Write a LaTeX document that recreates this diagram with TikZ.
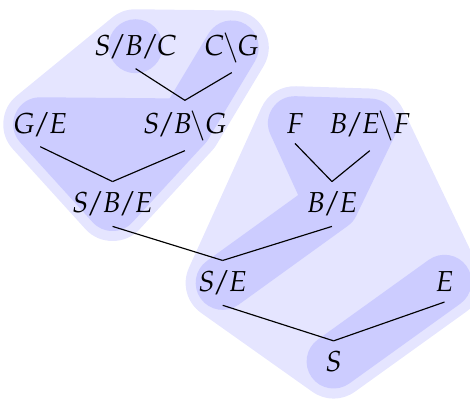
\documentclass[tikz,border=0pt]{standalone}
\usepackage{mathpazo}
\usetikzlibrary{backgrounds}
% tighter slashes for the categories
\newcommand{\fwd}{\mkern-1.5mu/\mkern-1.5mu}
\newcommand{\bwd}{\mkern-1mu\backslash\mkern-1mu}

\begin{document}
\begin{tikzpicture}\tikzstyle{every node}=[anchor=base]
  \tikzstyle{outer hull}=[draw=blue!10, fill=blue!10, line width=25.6pt, line join=round, line cap=round]
  \tikzstyle{inner hull}=[draw=blue!20, fill=blue!20, line width=18.7pt, line join=round, line cap=round]

  \useasboundingbox (0,0) rectangle (5.72,-4.88);

  % Categories, row by row
  \node (SBC) at (1.65,-0.67) {$S\fwd B\fwd C$};
  \node (CG)  at (2.82,-0.67) {$C\bwd G$};
  \node (GE)  at (0.49,-1.62) {$G\fwd E$};
  \node (SBG) at (2.25,-1.62) {$S\fwd B\bwd G$};
  \node (F)   at (3.59,-1.62) {$F$};
  \node (BEF) at (4.50,-1.62) {$B\fwd E\bwd F$};
  \node (SBE) at (1.37,-2.59) {$S\fwd B\fwd E$};
  \node (BE)  at (4.04,-2.59) {$B\fwd E$};
  \node (SE)  at (2.71,-3.55) {$S\fwd E$};
  \node (E)   at (5.41,-3.55) {$E$};
  \node (S)   at (4.06,-4.52) {$S$};

  % Branches
  \foreach \a/\b in {SBC/SBG, CG/SBG, GE/SBE, SBG/SBE, F/BE, BEF/BE, SBE/SE, BE/SE, SE/S, E/S}
    \draw (\a.south) -- (\b.north);

  % Hulls
  \begin{scope}[on background layer]
    \draw[outer hull] (SBC.center) -- (CG.center) -- (SBG.center) -- (SBE.center) -- (GE.center) -- cycle;
    \draw[outer hull] (F.center) -- (BEF.center) -- (E.center) -- (S.center) -- (SE.center) -- cycle;

    \fill[blue!20] (SBC.center) circle (9.35pt);
    \draw[inner hull] (CG.center) -- (SBG.center);
    \draw[inner hull] (GE.center) -- (SBG.center) -- (SBE.center) -- cycle;
    \draw[inner hull] (F.center) -- (BEF.center) -- (BE.center) -- (SE.center) -- (BE.center) -- cycle;
    \draw[inner hull] (S.center) -- (E.center);
  \end{scope}

\end{tikzpicture}
\end{document}
